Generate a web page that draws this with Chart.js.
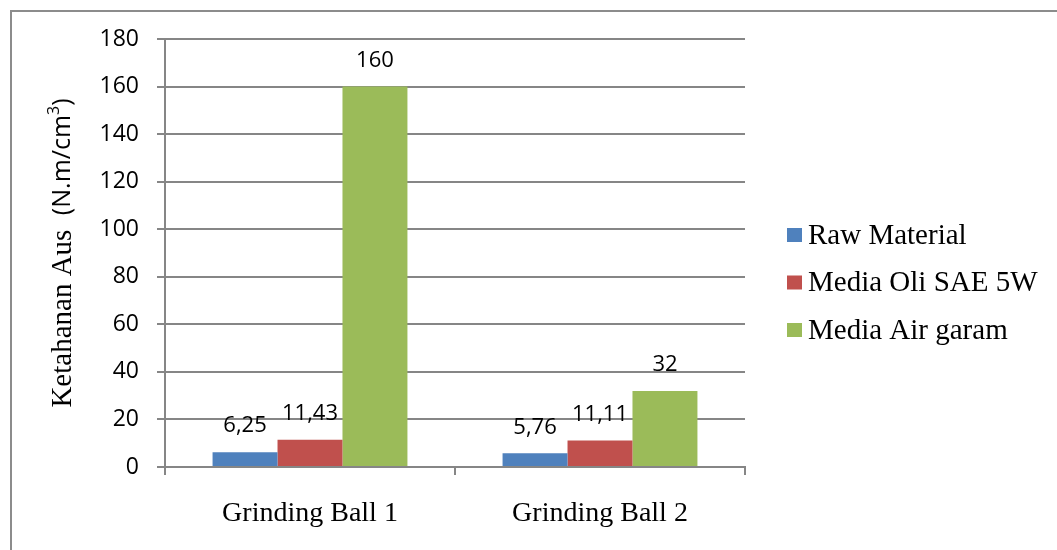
<!DOCTYPE html>
<html>
<head>
<meta charset="utf-8">
<script src="https://cdn.jsdelivr.net/npm/chart.js@4.4.1/dist/chart.umd.min.js"></script>
<style>
  html, body { margin: 0; padding: 0; background: #fff; }
  #wrap { position: relative; width: 1057px; height: 550px; overflow: hidden; }
  #frame {
    position: absolute; left: 10px; top: 10px; width: 1100px; height: 600px;
    border-left: 2px solid #8c8c8c; border-top: 2px solid #8c8c8c;
    pointer-events: none;
  }
  canvas { position: absolute; left: 0; top: 0; }
</style>
</head>
<body>
<div id="wrap">
  <canvas id="chart-wear" width="1057" height="550"></canvas>
  <div id="frame"></div>
</div>
<script>
// ---- data ----
const categories   = ['Grinding Ball 1', 'Grinding Ball 2'];
const rawMaterial  = [6.25, 5.76];
const oliSae5W     = [11.43, 11.11];
const airGaram     = [160, 32];
const seriesLabels = ['Raw Material', 'Media Oli SAE 5W', 'Media Air garam'];
const yMin = 0, yMax = 180, yStep = 20;

const COLORS = ['#4f81bd', '#c0504d', '#9bbb59'];
const GRID = '#868686';
const SANS = "'Open Sans', sans-serif";
const SERIF = "'Liberation Serif', 'Times New Roman', serif";

const fmtComma = v => String(v).replace('.', ',');

// values printed above each bar
const valueLabels = {
  id: 'valueLabels',
  afterDatasetsDraw(chart) {
    const ctx = chart.ctx;
    ctx.save();
    ctx.font = `22px ${SANS}`;
    ctx.fillStyle = '#000';
    ctx.textAlign = 'center';
    ctx.textBaseline = 'middle';
    chart.data.datasets.forEach((ds, i) => {
      chart.getDatasetMeta(i).data.forEach((bar, j) => {
        ctx.fillText(fmtComma(ds.data[j]), bar.x, bar.y - 26);
      });
    });
    ctx.restore();
  },
};

// rotated y title: serif words + sans unit with superscript
const yTitle = {
  id: 'yTitle',
  afterDraw(chart) {
    const ctx = chart.ctx;
    const parts = [
      { t: 'Ketahanan Aus  ', f: `29px ${SERIF}`, dy: 0 },
      { t: '(N.m/cm', f: `25px ${SANS}`, dy: 0 },
      { t: '3', f: `16px ${SANS}`, dy: -9 },
      { t: ')', f: `25px ${SANS}`, dy: 0 },
    ];
    ctx.save();
    let total = 0;
    parts.forEach(p => { ctx.font = p.f; p.w = ctx.measureText(p.t).width; total += p.w; });
    const area = chart.chartArea;
    ctx.translate(62, (area.top + area.bottom) / 2);
    ctx.rotate(-Math.PI / 2);
    ctx.fillStyle = '#000';
    ctx.textBaseline = 'middle';
    let x = -total / 2;
    parts.forEach(p => {
      ctx.font = p.f;
      ctx.fillText(p.t, x, p.dy + 1);
      x += p.w;
    });
    ctx.restore();
  },
};

// legend to the right of the plot
const sideLegend = {
  id: 'sideLegend',
  afterDraw(chart) {
    const ctx = chart.ctx;
    const area = chart.chartArea;
    const x0 = area.right + 42;
    const y0 = area.top + 196;
    ctx.save();
    ctx.font = `29px ${SERIF}`;
    ctx.textBaseline = 'middle';
    chart.data.datasets.forEach((ds, i) => {
      const y = y0 + i * 47.5;
      ctx.fillStyle = ds.backgroundColor;
      ctx.fillRect(x0, y - 7, 15, 14);
      ctx.fillStyle = '#000';
      ctx.fillText(ds.label, x0 + 21, y + 1);
    });
    ctx.restore();
  },
};

new Chart(document.getElementById('chart-wear'), {
  type: 'bar',
  data: {
    labels: categories,
    datasets: [
      { label: seriesLabels[0], data: rawMaterial, backgroundColor: COLORS[0] },
      { label: seriesLabels[1], data: oliSae5W,    backgroundColor: COLORS[1] },
      { label: seriesLabels[2], data: airGaram,    backgroundColor: COLORS[2] },
    ],
  },
  options: {
    responsive: false,
    animation: false,
    events: [],
    layout: { padding: { left: 90, top: 39, right: 312, bottom: 0 } },
    datasets: { bar: { barPercentage: 1, categoryPercentage: 0.672 } },
    plugins: { legend: { display: false }, tooltip: { enabled: false } },
    scales: {
      x: {
        grid: { drawOnChartArea: false, tickLength: 8, color: GRID, lineWidth: 2 },
        border: { color: GRID, width: 2 },
        ticks: { color: '#000', font: { family: SERIF, size: 28 }, padding: 22 },
        afterFit: s => { s.height = 83; },
      },
      y: {
        min: yMin, max: yMax,
        grid: { color: GRID, tickLength: 8, lineWidth: 2 },
        border: { color: GRID, width: 2 },
        ticks: { stepSize: yStep, color: '#000', font: { family: SANS, size: 23 }, padding: 18 },
        afterFit: s => { s.width = 75; },
      },
    },
  },
  plugins: [valueLabels, yTitle, sideLegend],
});
</script>
</body>
</html>
